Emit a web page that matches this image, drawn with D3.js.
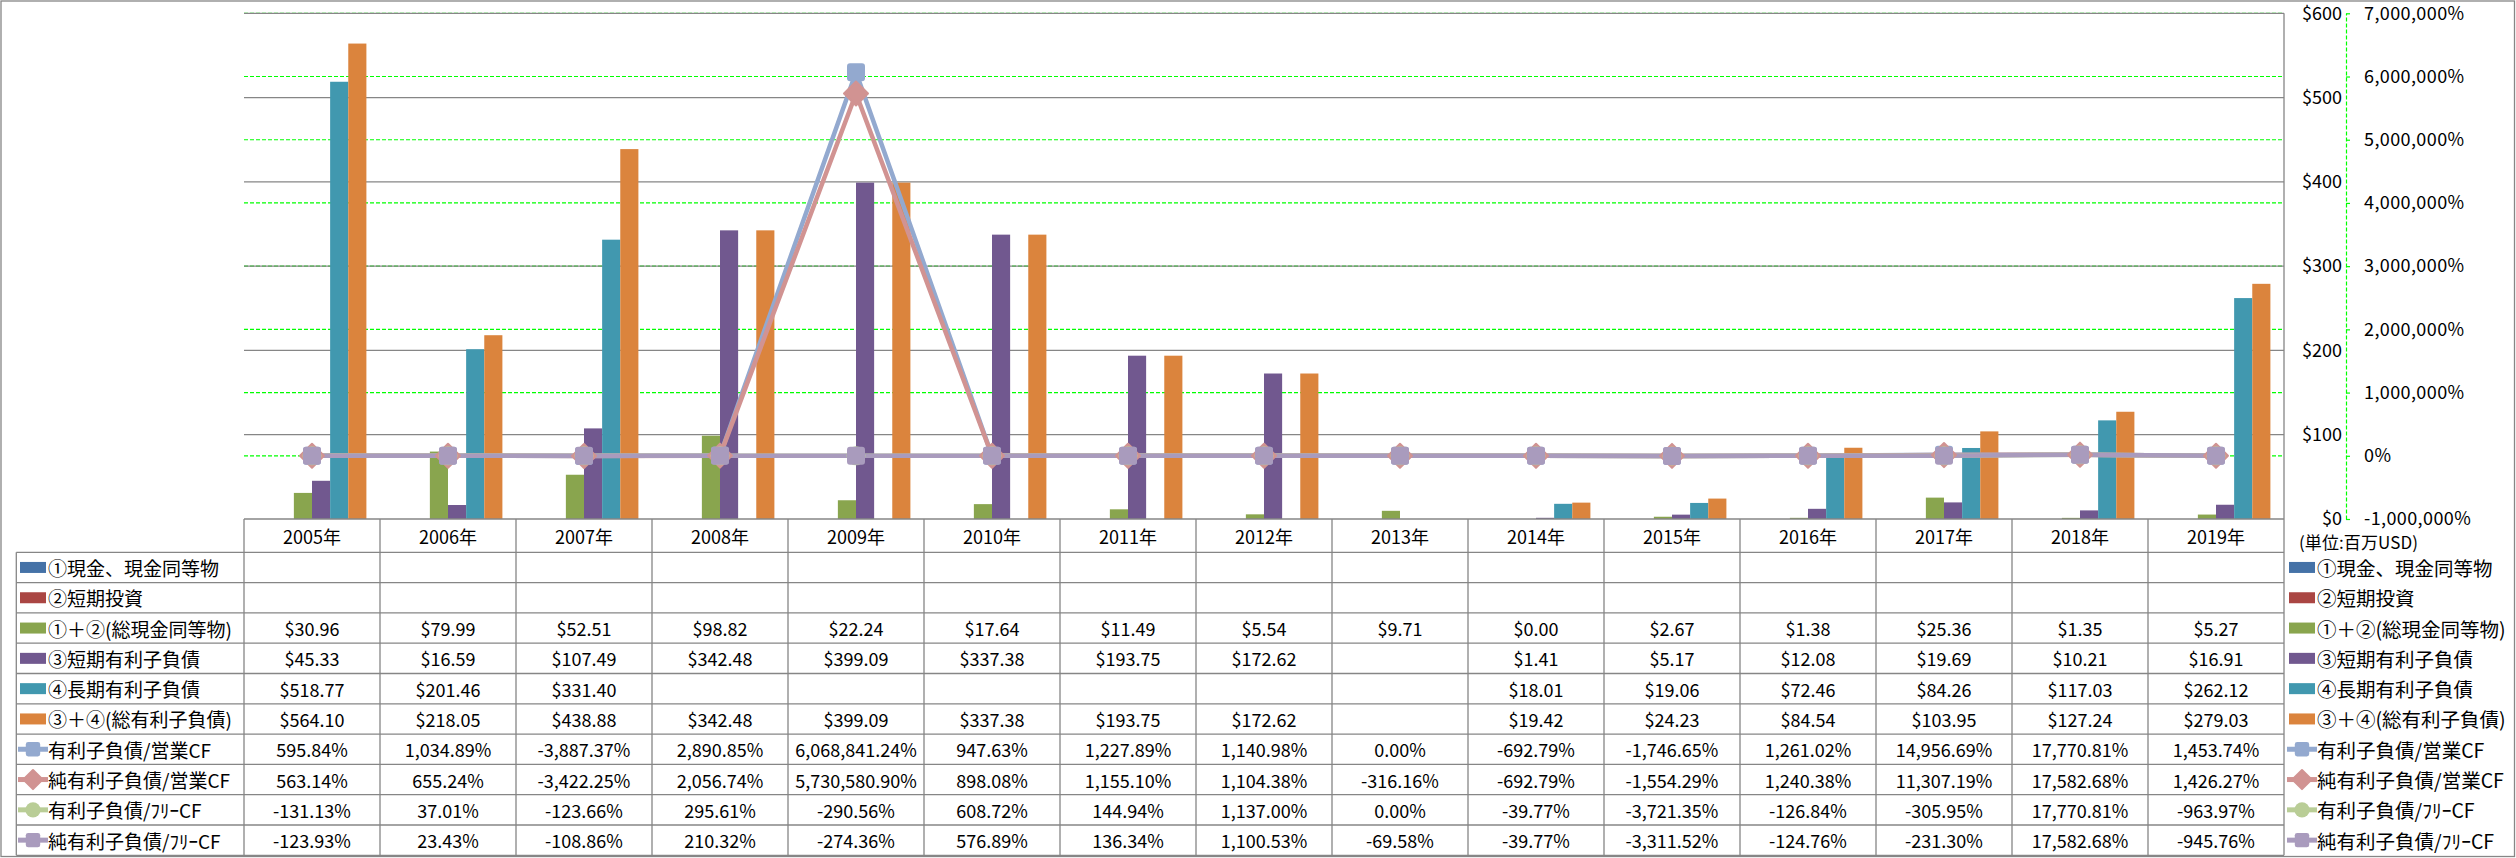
<!DOCTYPE html>
<html><head><meta charset="utf-8">
<script src="https://cdn.jsdelivr.net/npm/d3@7"></script>
<style>
body{margin:0;background:#fff}
svg{display:block}
text{font-family:"Noto Sans CJK JP","Noto Sans",sans-serif;fill:#000}
</style>
</head><body>
<svg id="c" width="2516" height="858"></svg>
<script>
// ---------------- data ----------------
const years = ["2005年","2006年","2007年","2008年","2009年","2010年","2011年","2012年","2013年","2014年","2015年","2016年","2017年","2018年","2019年"];
const cashEq      = [null,null,null,null,null,null,null,null,null,null,null,null,null,null,null]; // ①
const shortInv    = [null,null,null,null,null,null,null,null,null,null,null,null,null,null,null]; // ②
const totalCash   = [30.96,79.99,52.51,98.82,22.24,17.64,11.49,5.54,9.71,0.00,2.67,1.38,25.36,1.35,5.27]; // ①+②
const shortDebt   = [45.33,16.59,107.49,342.48,399.09,337.38,193.75,172.62,null,1.41,5.17,12.08,19.69,10.21,16.91]; // ③
const longDebt    = [518.77,201.46,331.40,null,null,null,null,null,null,18.01,19.06,72.46,84.26,117.03,262.12]; // ④
const totalDebt   = [564.10,218.05,438.88,342.48,399.09,337.38,193.75,172.62,null,19.42,24.23,84.54,103.95,127.24,279.03]; // ③+④
const debtOpCF      = [595.84,1034.89,-3887.37,2890.85,6068841.24,947.63,1227.89,1140.98,0.00,-692.79,-1746.65,1261.02,14956.69,17770.81,1453.74];
const netDebtOpCF   = [563.14,655.24,-3422.25,2056.74,5730580.90,898.08,1155.10,1104.38,-316.16,-692.79,-1554.29,1240.38,11307.19,17582.68,1426.27];
const debtFreeCF    = [-131.13,37.01,-123.66,295.61,-290.56,608.72,144.94,1137.00,0.00,-39.77,-3721.35,-126.84,-305.95,17770.81,-963.97];
const netDebtFreeCF = [-123.93,23.43,-108.86,210.32,-274.36,576.89,136.34,1100.53,-69.58,-39.77,-3311.52,-124.76,-231.30,17582.68,-945.76];
const moneyTicks = [0,100,200,300,400,500,600];
const pctTicks = [-1000000,0,1000000,2000000,3000000,4000000,5000000,6000000,7000000];
const unitLabel = "(単位:百万USD)";

const barSeries = [
  {name:"①現金、現金同等物", values:cashEq, color:"#4572A7"},
  {name:"②短期投資", values:shortInv, color:"#AA4643"},
  {name:"①＋②(総現金同等物)", values:totalCash, color:"#89A54E"},
  {name:"③短期有利子負債", values:shortDebt, color:"#71588F"},
  {name:"④長期有利子負債", values:longDebt, color:"#4198AF"},
  {name:"③＋④(総有利子負債)", values:totalDebt, color:"#DB843D"}
];
const lineSeries = [
  {name:"有利子負債/営業CF", values:debtOpCF, color:"#93A9CF", shape:"square"},
  {name:"純有利子負債/営業CF", values:netDebtOpCF, color:"#D19392", shape:"diamond"},
  {name:"有利子負債/ﾌﾘｰCF", values:debtFreeCF, color:"#B9CD96", shape:"circle"},
  {name:"純有利子負債/ﾌﾘｰCF", values:netDebtFreeCF, color:"#A99BBD", shape:"square"}
];

// ---------------- layout ----------------
const W=2516,H=858;
const L=244, R=2284, T=13.3, B=519;
const tableLeft=16.3, headerH=33.3, rowH=30.3;
const gridColor="#868686";
const svg=d3.select("#c");

const loc=d3.formatLocale({decimal:".",thousands:",",grouping:[3],currency:["$",""],minus:"-"});
const fMoney=loc.format("$,.2f");
const fPct=v=>loc.format(",.2f")(v)+"%";
const fPctAxis=v=>loc.format(",.0f")(v)+"%";

const x=d3.scaleBand().domain(years).range([L,R]).paddingInner(0).paddingOuter(0);
const xs=d3.scaleBand().domain(d3.range(barSeries.length)).range([0,x.bandwidth()]).paddingInner(0).paddingOuter(0.75);
const yL=d3.scaleLinear().domain([0,600]).range([B,T]);
const yR=d3.scaleLinear().domain([-1000000,7000000]).range([B,T]);

// outer border
svg.append("rect").attr("x",1).attr("y",1).attr("width",W-2.5).attr("height",H-2.5)
  .attr("fill","none").attr("stroke",gridColor).attr("stroke-width",1.3);

// green dashed gridlines (secondary)
svg.append("g").selectAll("line").data(pctTicks.filter(d=>d>-1000000)).join("line")
  .attr("x1",L).attr("x2",R).attr("y1",d=>yR(d)).attr("y2",d=>yR(d))
  .attr("stroke","#00FF00").attr("stroke-width",1.2).attr("stroke-dasharray","4,2");
// gray gridlines (primary)
svg.append("g").selectAll("line").data(moneyTicks.filter(d=>d>0)).join("line")
  .attr("x1",L).attr("x2",R).attr("y1",d=>yL(d)).attr("y2",d=>yL(d))
  .attr("stroke",gridColor).attr("stroke-width",1.3);
// right plot edge
svg.append("line").attr("x1",R).attr("x2",R).attr("y1",T).attr("y2",B)
  .attr("stroke",gridColor).attr("stroke-width",1.3);

// bars
barSeries.forEach((s,si)=>{
  svg.append("g").selectAll("rect").data(s.values.map((v,i)=>({v,i})).filter(d=>d.v!=null && d.v>0)).join("rect")
    .attr("x",d=>x(years[d.i])+xs(si)).attr("width",xs.bandwidth())
    .attr("y",d=>yL(d.v)).attr("height",d=>yL(0)-yL(d.v))
    .attr("fill",s.color);
});

// marker drawing
function marker(g,shape,cx,cy,color,scale){
  scale=scale||1;
  if(shape==="square"){
    const s=18*scale;
    g.append("rect").attr("x",cx-s/2).attr("y",cy-s/2).attr("width",s).attr("height",s)
      .attr("rx",3*scale).attr("fill",color);
  }else if(shape==="diamond"){
    const r=12*scale;
    g.append("path").attr("d",`M${cx},${cy-r}L${cx+r},${cy}L${cx},${cy+r}L${cx-r},${cy}Z`)
      .attr("fill",color).attr("stroke",color).attr("stroke-width",2).attr("stroke-linejoin","round");
  }else{
    g.append("circle").attr("cx",cx).attr("cy",cy).attr("r",9.5*scale).attr("fill",color);
  }
}

// lines
const lineGen=d3.line().x((d,i)=>x(years[i])+x.bandwidth()/2).y(d=>yR(d));
lineSeries.forEach(s=>{
  const g=svg.append("g");
  g.append("path").datum(s.values).attr("d",lineGen).attr("fill","none")
    .attr("stroke",s.color).attr("stroke-width",4.5).attr("stroke-linejoin","round");
});
lineSeries.forEach(s=>{
  const g=svg.append("g");
  s.values.forEach((v,i)=>marker(g,s.shape,x(years[i])+x.bandwidth()/2,yR(v),s.color,1));
});

// axes on right
const axX=2346;
const gM=svg.append("g").attr("transform",`translate(${axX},0)`)
  .call(d3.axisLeft(yL).tickValues(moneyTicks).tickSize(0).tickPadding(4).tickFormat(d=>"$"+d));
gM.select(".domain").remove();
gM.selectAll("text").attr("font-size",18).attr("font-family",'"Noto Sans CJK JP",sans-serif').attr("fill","#000");

const gP=svg.append("g").attr("transform",`translate(${axX},0)`)
  .call(d3.axisRight(yR).tickValues(pctTicks).tickSize(4).tickSizeOuter(0).tickPadding(14).tickFormat(fPctAxis));
gP.select(".domain").attr("stroke","#00FF00").attr("stroke-dasharray","4,2").attr("stroke-width",1.2);
gP.selectAll(".tick line").attr("stroke","#00FF00").attr("stroke-width",1.2);
gP.selectAll("text").attr("font-size",18).attr("font-family",'"Noto Sans CJK JP",sans-serif')
  .attr("letter-spacing",0.4)
  .attr("fill",d=>d<0?"#FF0000":"#000");

// unit label
svg.append("text").attr("x",2299).attr("y",541).attr("dominant-baseline","central")
  .attr("font-size",17).attr("textLength",119).attr("lengthAdjust","spacing").text(unitLabel);

// ---------------- data table ----------------
const tg=svg.append("g");
const rowsAll=[...barSeries.map(s=>({...s,type:"bar"})),...lineSeries.map(s=>({...s,type:"line"}))];
const rowTop=i=>B+headerH+i*rowH;
const tableBottom=rowTop(rowsAll.length);
// horizontal lines
tg.append("line").attr("x1",L).attr("x2",R).attr("y1",B).attr("y2",B).attr("stroke",gridColor).attr("stroke-width",1.3);
d3.range(rowsAll.length+1).forEach(i=>{
  tg.append("line").attr("x1",tableLeft).attr("x2",R).attr("y1",rowTop(i)).attr("y2",rowTop(i))
    .attr("stroke",gridColor).attr("stroke-width",1.3);
});
// vertical lines
tg.append("line").attr("x1",tableLeft).attr("x2",tableLeft).attr("y1",rowTop(0)).attr("y2",tableBottom).attr("stroke",gridColor).attr("stroke-width",1.3);
years.forEach(yv=>{
  tg.append("line").attr("x1",x(yv)).attr("x2",x(yv)).attr("y1",B).attr("y2",tableBottom).attr("stroke",gridColor).attr("stroke-width",1.3);
});
tg.append("line").attr("x1",R).attr("x2",R).attr("y1",B).attr("y2",tableBottom).attr("stroke",gridColor).attr("stroke-width",1.3);
// header
tg.selectAll("text.hdr").data(years).join("text").attr("class","hdr")
  .attr("x",d=>x(d)+x.bandwidth()/2).attr("y",B+headerH/2).attr("text-anchor","middle")
  .attr("dominant-baseline","central").attr("font-size",18).text(d=>d);

function legendKey(g,s,kx,cy){
  if(s.type==="bar"){
    g.append("rect").attr("x",kx).attr("y",cy-5.5).attr("width",26).attr("height",11).attr("fill",s.color);
  }else{
    g.append("line").attr("x1",kx-2).attr("x2",kx+28).attr("y1",cy).attr("y2",cy)
      .attr("stroke",s.color).attr("stroke-width",5);
    marker(g,s.shape,kx+13,cy,s.color,0.8);
  }
}

rowsAll.forEach((s,ri)=>{
  const cy=rowTop(ri)+rowH/2;
  legendKey(tg,s,20,cy);
  tg.append("text").attr("x",48).attr("y",cy).attr("dominant-baseline","central")
    .attr("font-size",19).text(s.name);
  const fmt=s.type==="bar"?fMoney:fPct;
  s.values.forEach((v,i)=>{
    if(v==null) return;
    tg.append("text").attr("x",x(years[i])+x.bandwidth()/2).attr("y",cy)
      .attr("text-anchor","middle").attr("dominant-baseline","central")
      .attr("font-size",18).text(fmt(v));
  });
  // right legend
  legendKey(tg,s,2289,cy);
  tg.append("text").attr("x",2317).attr("y",cy).attr("dominant-baseline","central")
    .attr("font-size",19.5).text(s.name);
});
</script>
</body></html>
